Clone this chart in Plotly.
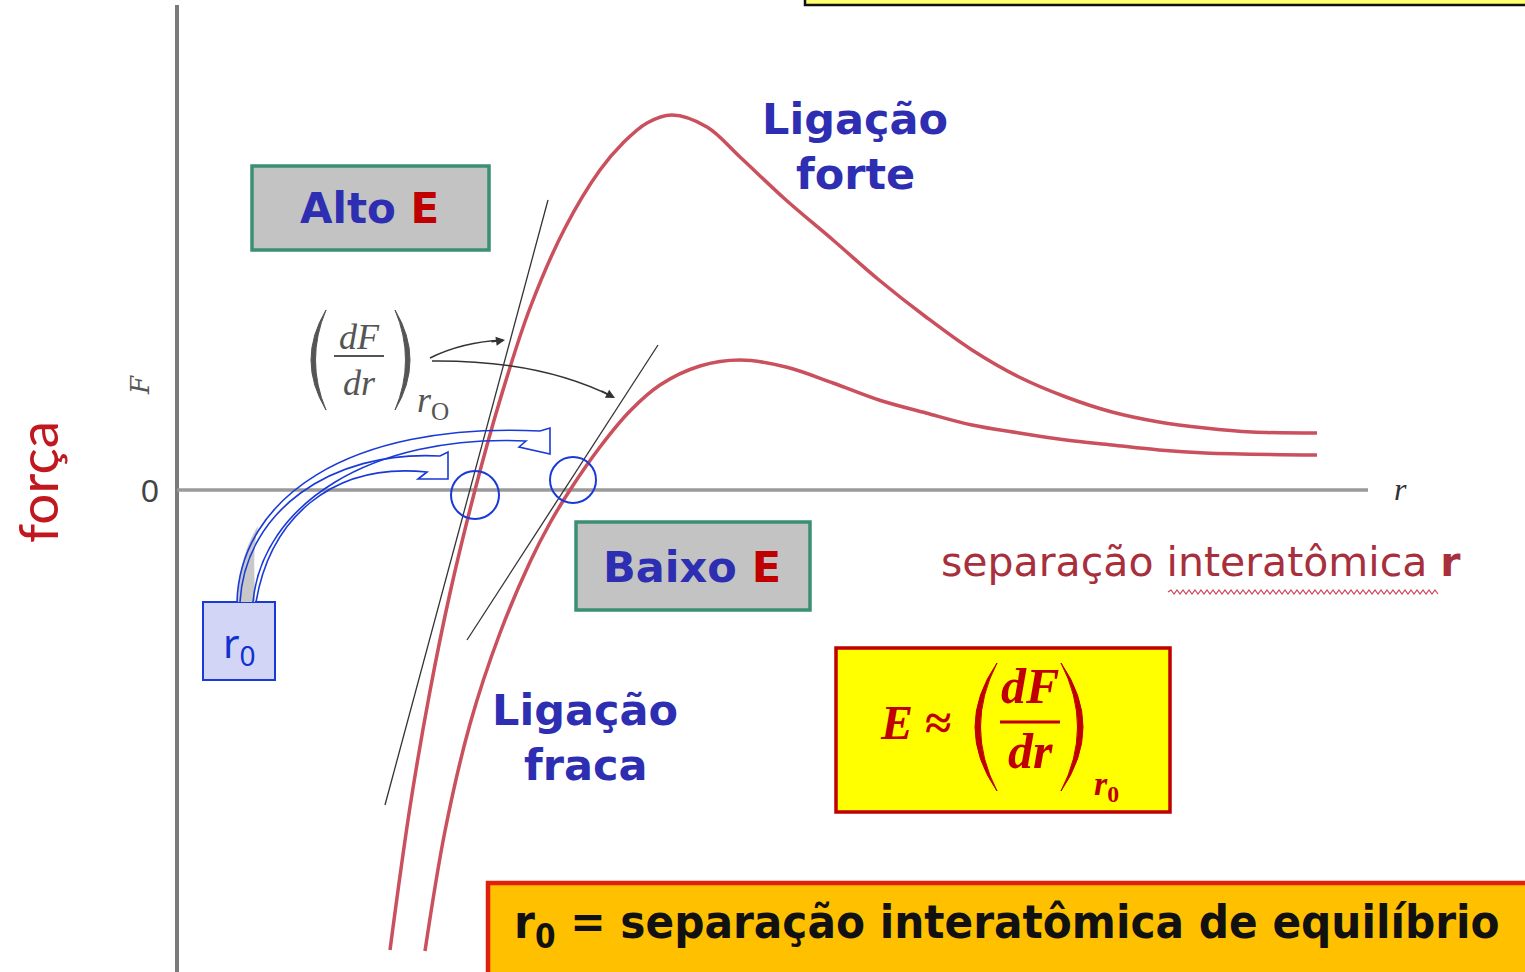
import plotly.graph_objects as go

# ---------------- data (arbitrary units: r along the axis, F force) ----------------
r_forte = [2.13, 2.33, 2.53, 2.73, 2.98, 3.23, 3.53, 3.88, 4.23, 4.46, 4.70, 4.95, 5.30, 5.63,
           6.09, 6.56, 7.02, 7.49, 7.95, 8.42, 8.89, 9.35, 9.82, 10.28, 10.75, 11.40]
F_forte = [-4.60, -3.17, -2.01, -1.03, 0.00, 0.90, 1.82, 2.62, 3.20, 3.47, 3.67, 3.75, 3.63, 3.33,
           2.90, 2.50, 2.10, 1.73, 1.40, 1.13, 0.93, 0.78, 0.68, 0.62, 0.58, 0.57]

r_fraca = [2.48, 2.68, 2.93, 3.23, 3.53, 3.73, 3.93, 4.23, 4.53, 4.83, 5.23, 5.63, 6.09, 6.56,
           7.02, 7.49, 7.95, 8.42, 8.89, 9.35, 9.82, 10.28, 11.40]
F_fraca = [-4.61, -3.41, -2.34, -1.43, -0.72, -0.33, 0.00, 0.43, 0.79, 1.05, 1.24, 1.30, 1.23, 1.07,
           0.90, 0.77, 0.65, 0.57, 0.50, 0.45, 0.40, 0.37, 0.35]

# tangent lines at r0
tan_forte_r = [2.08, 3.71]
tan_forte_F = [-3.15, 2.90]
tan_fraca_r = [2.90, 4.81]
tan_fraca_F = [-1.50, 1.45]

# equilibrium separations (zero crossings)
r0_values = [2.98, 3.96]

# ---------------- layout helpers (pixel -> data) ----------------
W, H = 1525, 972
OX, OY, S = 177, 490, 100.0


def X(px):
    return (px - OX) / S


def Y(py):
    return (OY - py) / S


def path(cmds):
    out = []
    for c in cmds:
        op = c[0]
        nums = c[1:]
        pts = []
        for i in range(0, len(nums), 2):
            pts.append(f"{X(nums[i]):.4f},{Y(nums[i + 1]):.4f}")
        out.append(op + " " + " ".join(pts))
    return " ".join(out)


CURVE = "#c9505c"
BLUE_T = "#2e2eb2"
RED_E = "#c00000"
ABLUE = "#1a3ad8"

fig = go.Figure()

fig.add_trace(go.Scatter(x=tan_forte_r, y=tan_forte_F, mode="lines",
                         line=dict(color="#333333", width=1.3), hoverinfo="skip"))
fig.add_trace(go.Scatter(x=tan_fraca_r, y=tan_fraca_F, mode="lines",
                         line=dict(color="#333333", width=1.3), hoverinfo="skip"))
fig.add_trace(go.Scatter(x=r_forte, y=F_forte, mode="lines", line_shape="spline",
                         line=dict(color=CURVE, width=3.5), hoverinfo="skip"))
fig.add_trace(go.Scatter(x=r_fraca, y=F_fraca, mode="lines", line_shape="spline",
                         line=dict(color=CURVE, width=3.5), hoverinfo="skip"))

shapes = []
# axes
shapes.append(dict(type="line", x0=X(177), y0=Y(5), x1=X(177), y1=Y(975),
                   line=dict(color="#7a7a7a", width=4), layer="below"))
shapes.append(dict(type="line", x0=X(177), y0=0, x1=X(1368), y1=0,
                   line=dict(color="#9a9a9a", width=3.5), layer="below"))

# top yellow box (cut)
shapes.append(dict(type="rect", x0=X(805), y0=Y(-20), x1=X(1535), y1=Y(5),
                   fillcolor="#ffff70", line=dict(color="#111111", width=2.5)))

# Alto E / Baixo E boxes
shapes.append(dict(type="rect", x0=X(252), y0=Y(166), x1=X(489), y1=Y(250),
                   fillcolor="#c3c3c3", line=dict(color="#3a9070", width=3.5)))
shapes.append(dict(type="rect", x0=X(576), y0=Y(522), x1=X(810), y1=Y(610),
                   fillcolor="#c3c3c3", line=dict(color="#3a9070", width=3.5)))

# formula box
shapes.append(dict(type="rect", x0=X(836), y0=Y(648), x1=X(1170), y1=Y(812),
                   fillcolor="#ffff00", line=dict(color="#c00000", width=3.5)))

# bottom box
shapes.append(dict(type="rect", x0=X(488), y0=Y(883), x1=X(1540), y1=Y(985),
                   fillcolor="#ffc000", line=dict(color="#e0200c", width=4.5)))

# r0 box
shapes.append(dict(type="rect", x0=X(203), y0=Y(602), x1=X(275), y1=Y(680),
                   fillcolor="#d2d5f5", line=dict(color=ABLUE, width=2)))

# gray base of the curved arrows
shapes.append(dict(type="path",
                   path=path([("M", 238, 602), ("C", 239, 572, 244, 548, 258, 526),
                              ("C", 252, 552, 255, 578, 255, 602), ("Z",)]),
                   fillcolor="#c8c8c8", line=dict(width=0)))
# blue curved arrows (outlines)
shapes.append(dict(type="path",
                   path=path([("M", 237, 602), ("C", 240, 500, 345, 422, 540, 431),
                              ("L", 550, 428), ("L", 550, 454), ("L", 519, 447), ("L", 526, 441),
                              ("C", 370, 434, 262, 505, 253, 602)]),
                   line=dict(color=ABLUE, width=1.6)))
shapes.append(dict(type="path",
                   path=path([("M", 240, 602), ("C", 245, 512, 330, 450, 440, 456),
                              ("L", 448, 452), ("L", 448, 479), ("L", 418, 479), ("L", 427, 472),
                              ("C", 330, 462, 270, 520, 256, 602)]),
                   line=dict(color=ABLUE, width=1.6)))

# circles at r0
for rc, (cy, rad) in zip(r0_values, [(495, 24), (480, 23)]):
    shapes.append(dict(type="circle", x0=rc - rad / S, x1=rc + rad / S,
                       y0=Y(cy) - rad / S, y1=Y(cy) + rad / S,
                       line=dict(color=ABLUE, width=2)))

# black curved arrows from dF/dr label
shapes.append(dict(type="path", path=path([("M", 430, 358), ("Q", 462, 342, 503, 340)]),
                   line=dict(color="#333333", width=1.5)))
shapes.append(dict(type="path", path=path([("M", 432, 361), ("Q", 540, 360, 613, 397)]),
                   line=dict(color="#333333", width=1.5)))

# gray parentheses and fraction bar of (dF/dr)
shapes.append(dict(type="path",
                   path=path([("M", 326, 310), ("Q", 296, 360, 326, 410),
                              ("Q", 305, 360, 326, 310), ("Z",)]),
                   fillcolor="#555555", line=dict(color="#555555", width=1)))
shapes.append(dict(type="path",
                   path=path([("M", 395, 310), ("Q", 425, 360, 395, 410),
                              ("Q", 416, 360, 395, 310), ("Z",)]),
                   fillcolor="#555555", line=dict(color="#555555", width=1)))
shapes.append(dict(type="line", x0=X(334), y0=Y(356), x1=X(384), y1=Y(356),
                   line=dict(color="#555555", width=2)))

# red parentheses and fraction bar of formula
shapes.append(dict(type="path",
                   path=path([("M", 997, 663), ("Q", 953, 727, 997, 791),
                              ("Q", 964, 727, 997, 663), ("Z",)]),
                   fillcolor=RED_E, line=dict(color=RED_E, width=1)))
shapes.append(dict(type="path",
                   path=path([("M", 1061, 663), ("Q", 1105, 727, 1061, 791),
                              ("Q", 1094, 727, 1061, 663), ("Z",)]),
                   fillcolor=RED_E, line=dict(color=RED_E, width=1)))
shapes.append(dict(type="line", x0=X(1000), y0=Y(722), x1=X(1060), y1=Y(722),
                   line=dict(color=RED_E, width=3)))

# wavy underline under "interatômica"
wave = [("M", 1168, 592)]
xw = 1168
up = True
while xw < 1436:
    xw += 3
    wave.append(("L", xw, 590 if up else 594))
    up = not up
shapes.append(dict(type="path", path=path(wave), line=dict(color="#d04050", width=1.2)))

ann = []


def txt(px, py, text, size, color, family="DejaVu Sans", angle=0, xanchor="center"):
    ann.append(dict(x=X(px), y=Y(py), text=text, showarrow=False, textangle=angle,
                    xanchor=xanchor, yanchor="middle",
                    font=dict(size=size, color=color, family=family)))


# arrowheads of black arrows
ann.append(dict(x=X(505), y=Y(340), ax=X(490), ay=Y(342), axref="x", ayref="y", text="",
                showarrow=True, arrowhead=2, arrowsize=1.2, arrowwidth=1.5, arrowcolor="#333333"))
ann.append(dict(x=X(615), y=Y(398), ax=X(600), ay=Y(390), axref="x", ayref="y", text="",
                showarrow=True, arrowhead=2, arrowsize=1.2, arrowwidth=1.5, arrowcolor="#333333"))

txt(855, 119, "<b>Ligação</b>", 43, BLUE_T)
txt(855, 174, "<b>forte</b>", 43, BLUE_T)
txt(585, 710, "<b>Ligação</b>", 43, BLUE_T)
txt(585, 765, "<b>fraca</b>", 43, BLUE_T)
txt(369, 208, f"<b>Alto <span style='color:{RED_E}'>E</span></b>", 42, BLUE_T)
txt(692, 567, f"<b>Baixo <span style='color:{RED_E}'>E</span></b>", 43, BLUE_T)

txt(37, 482, "força", 55, "#c0181e", family="Lato", angle=-90)
txt(140, 385, "<i>F</i>", 26, "#555555", family="DejaVu Serif", angle=-90)
txt(150, 491, "0", 32, "#444444", family="Liberation Sans")
txt(1400, 489, "<i>r</i>", 32, "#333333", family="Liberation Serif")

txt(1201, 562, "separação interatômica <b>r</b>", 41, "#a8303c", family="DejaVu Sans")

# gray dF/dr label
txt(359, 337, "<i>dF</i>", 36, "#555555", family="Liberation Serif")
txt(359, 383, "<i>dr</i>", 36, "#555555", family="Liberation Serif")
txt(433, 402, "<i>r</i><sub>O</sub>", 36, "#555555", family="Liberation Serif")

# r0 box text
txt(239, 644, "r<sub>0</sub>", 40, "#1030d0", family="Noto Sans")

# formula
txt(915, 722, "<b><i>E</i> ≈</b>", 48, RED_E, family="Liberation Serif")
txt(1030, 686, "<b><i>dF</i></b>", 50, RED_E, family="Liberation Serif")
txt(1030, 751, "<b><i>dr</i></b>", 50, RED_E, family="Liberation Serif")
txt(1106, 786, "<b><i>r</i><sub>0</sub></b>", 34, RED_E, family="Liberation Serif")

# bottom text
txt(1007, 925, "<b>r<sub>0</sub> = separação interatômica de equilíbrio</b>", 47, "#111111",
    family="DejaVu Sans Condensed, Liberation Sans Narrow, Roboto Condensed, Liberation Sans")

fig.update_layout(
    width=W, height=H,
    margin=dict(l=0, r=0, t=0, b=0),
    paper_bgcolor="white", plot_bgcolor="white",
    showlegend=False,
    xaxis=dict(range=[X(0), X(W)], visible=False, fixedrange=True),
    yaxis=dict(range=[Y(H), Y(0)], visible=False, fixedrange=True),
    shapes=shapes, annotations=ann,
)

fig.write_html("out.html", config=dict(displayModeBar=False, staticPlot=True),
               post_script="document.body.style.margin='0px';document.body.style.overflow='hidden';")
